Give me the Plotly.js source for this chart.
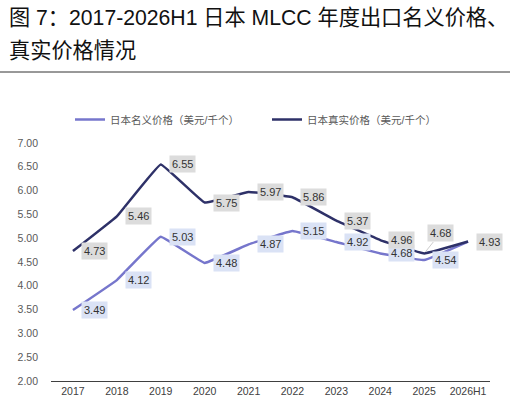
<!DOCTYPE html>
<html>
<head>
<meta charset="utf-8">
<script src="https://cdn.plot.ly/plotly-3.0.1.min.js"></script>
<style>html,body{margin:0;padding:0;background:#fff;}#chart{width:510px;height:411px;}</style>
</head>
<body>
<div id="chart"></div>
<script>
var years = ["2017","2018","2019","2020","2021","2022","2023","2024","2025","2026H1"];
var nominal = [3.49, 4.12, 5.03, 4.48, 4.87, 5.15, 4.92, 4.68, 4.54, 4.93];
var real = [4.73, 5.46, 6.55, 5.75, 5.97, 5.86, 5.37, 4.96, 4.68, 4.93];
var nominalName = "日本名义价格（美元/千个）";
var realName = "日本真实价格（美元/千个）";
var yTicks = [2, 2.5, 3, 3.5, 4, 4.5, 5, 5.5, 6, 6.5, 7];
var titleLine1 = "图 7：2017-2026H1 日本 MLCC 年度出口名义价格、";
var titleLine2 = "真实价格情况";

var FONT = "Liberation Sans, Arial, Noto Sans CJK SC, sans-serif";
var nomColor = "#7676cc";
var realColor = "#2e3168";

// plot area in pixels
var L = 51, R = 20, T = 143, B = 30, W = 510, H = 411;
var PW = W - L - R, PH = H - T - B;
function px2x(p) { return (p - L) / PW; }
function py2y(p) { return (H - B - p) / PH; }

var traces = [
  {x: years, y: nominal, name: nominalName, type: "scatter", mode: "lines",
   line: {color: nomColor, width: 2.5, shape: "spline", smoothing: 0.2}},
  {x: years, y: real, name: realName, type: "scatter", mode: "lines",
   line: {color: realColor, width: 2.5, shape: "spline", smoothing: 0.2}}
];

var annotations = [];
function addLabels(vals, bg, skipLast, special) {
  vals.forEach(function (v, i) {
    if (skipLast && i === vals.length - 1) return;
    var a = {
      x: i, y: v, xref: "x", yref: "y",
      text: v.toFixed(2), showarrow: false,
      xanchor: "left", yanchor: "middle", xshift: 8, yshift: 0,
      bgcolor: bg, borderpad: 2,
      font: {family: FONT, size: 11, color: "#333333"}
    };
    if (special && special[i]) Object.assign(a, special[i]);
    annotations.push(a);
  });
}
addLabels(nominal, "#dae2f5", true, null);
addLabels(real, "#dcdcdc", false, {
  8: {showarrow: true, arrowhead: 0, arrowwidth: 0.8, arrowcolor: "#bfbfbf",
      ax: 16, ay: -20, xanchor: "center", xshift: 0, standoff: 2}
});

[[titleLine1, 17], [titleLine2, 50]].forEach(function (t) {
  annotations.push({
    xref: "paper", yref: "paper", x: px2x(7), y: py2y(t[1]),
    xanchor: "left", yanchor: "middle", showarrow: false, text: t[0],
    font: {family: "Liberation Sans, Noto Sans CJK SC, sans-serif", size: 21.2, color: "#111111"}
  });
});

var layout = {
  width: W, height: H,
  margin: {l: L, r: R, t: T, b: B},
  paper_bgcolor: "#ffffff", plot_bgcolor: "#ffffff",
  font: {family: FONT, color: "#404040"},
  showlegend: true,
  legend: {
    orientation: "h", x: px2x(70), xref: "paper", xanchor: "left",
    y: py2y(105), yanchor: "top",
    font: {family: FONT, size: 10.5, color: "#595959"},
    entrywidth: 152, entrywidthmode: "pixels",
    bgcolor: "rgba(0,0,0,0)"
  },
  xaxis: {
    type: "category", range: [-0.5, 9.5], fixedrange: true,
    showgrid: false, zeroline: false,
    showline: true, linecolor: "#404040", linewidth: 1,
    ticks: "", tickfont: {family: FONT, size: 10.5, color: "#404040"}
  },
  yaxis: {
    range: [2, 7], tickvals: yTicks, tickformat: ".2f",
    showgrid: false, zeroline: false, showline: false, ticks: "",
    ticklabelstandoff: 12,
    tickfont: {family: FONT, size: 10.5, color: "#595959"}
  },
  shapes: [{
    type: "line", xref: "paper", yref: "paper",
    x0: px2x(0), x1: px2x(W), y0: py2y(72), y1: py2y(72),
    line: {color: "#333333", width: 1}
  }],
  annotations: annotations
};

Plotly.newPlot("chart", traces, layout, {displayModeBar: false, staticPlot: true});
</script>
</body>
</html>
